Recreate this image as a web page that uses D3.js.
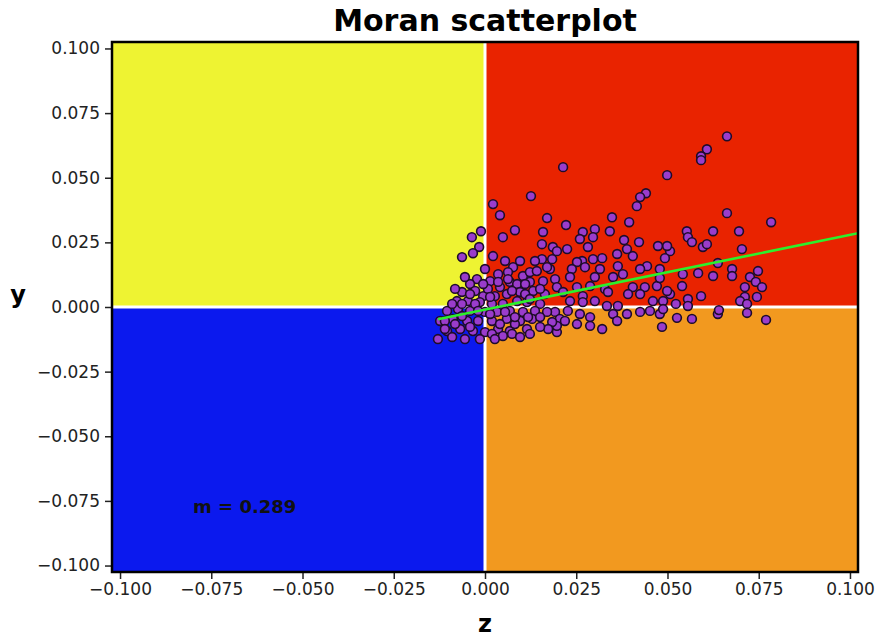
<!DOCTYPE html>
<html>
<head>
<meta charset="utf-8">
<script src="https://cdn.jsdelivr.net/npm/d3@7"></script>
<style>
  body { margin: 0; background: #fff; }
  text { font-family: "DejaVu Sans", sans-serif; }
</style>
</head>
<body>
<div id="chart"></div>
<script>
// standardised value (z) and its spatial lag (y)
const zValues = [
  0.0663, 0.0608, 0.0592, 0.0592, 0.0499, 0.0441, 0.0425, 0.0416, 0.0348, 0.0395,
  0.0214, 0.0126, 0.0022, 0.0041, 0.0170, 0.0222, 0.0082, -0.0011, 0.0159, 0.0301,
  0.0342, 0.0268, 0.0663, 0.0784, 0.0553, 0.0625, 0.0696, -0.0036, -0.0016, -0.0063,
  -0.0033, 0.0022, 0.0049, 0.0156, 0.0156, 0.0556, 0.0567, 0.0597, 0.0608, 0.0704,
  0.0507, 0.0638, 0.0677, 0.0677, 0.0542, 0.0584, 0.0625, 0.0726, 0.0748, 0.0742,
  0.0759, 0.0712, 0.0540, 0.0592, 0.0712, 0.0745, 0.0699, 0.0523, 0.0556, 0.0556,
  0.0718, 0.0526, 0.0567, 0.0638, 0.0641, 0.0718, 0.0770, 0.0507, 0.0260, 0.0296,
  0.0225, 0.0282, 0.0186, 0.0381, 0.0422, 0.0474, 0.0499, 0.0389, 0.0362, 0.0405,
  0.0493, 0.0184, 0.0296, 0.0321, 0.0266, 0.0252, 0.0364, 0.0444, 0.0425, 0.0178,
  0.0238, 0.0274, 0.0315, 0.0479, 0.0192, 0.0233, 0.0301, 0.0351, 0.0378, 0.0197,
  0.0252, 0.0288, 0.0329, 0.0405, 0.0438, 0.0471, 0.0499, 0.0214, 0.0268, 0.0337,
  0.0392, 0.0425, 0.0460, 0.0488, 0.0233, 0.0268, 0.0301, 0.0334, 0.0364, 0.0192,
  0.0227, 0.0260, 0.0205, 0.0351, 0.0389, 0.0425, 0.0452, 0.0479, 0.0488, 0.0219,
  0.0252, 0.0288, 0.0288, 0.0362, 0.0197, 0.0197, 0.0321, 0.0485, 0.0184, 0.0173,
  0.0077, 0.0063, 0.0104, 0.0123, 0.0142, 0.0170, -0.0022, -0.0041, 0.0014, 0.0041,
  0.0068, 0.0088, 0.0123, 0.0159, -0.0063, -0.0027, -0.0005, 0.0027, 0.0060, 0.0096,
  0.0132, 0.0164, -0.0077, -0.0047, -0.0014, 0.0019, 0.0049, 0.0088, 0.0115, 0.0151,
  -0.0104, -0.0074, -0.0041, 0.0000, 0.0033, 0.0068, 0.0104, 0.0137, 0.0170, -0.0123,
  -0.0088, -0.0049, -0.0019, 0.0019, 0.0060, 0.0096, 0.0129, -0.0104, -0.0068, -0.0033,
  0.0000, 0.0036, 0.0068, 0.0115, -0.0129, -0.0090, -0.0055, -0.0014, 0.0019, 0.0049,
  0.0074, -0.0063, -0.0027, 0.0008, 0.0041, 0.0082, 0.0110, -0.0090, -0.0055, 0.0036,
  0.0137, 0.0096, 0.0000, -0.0110, 0.0118, 0.0151, -0.0082, 0.0151, 0.0055, 0.0479,
  0.0197, -0.0110, -0.0082, -0.0041, -0.0019, 0.0014, 0.0055, 0.0082, 0.0027, 0.0096,
  0.0123, 0.0151, -0.0063, -0.0041, 0.0014, 0.0074, 0.0123, 0.0036, 0.0110, 0.0063,
  -0.0005,
];
const lagValues = [
  0.0660, 0.0610, 0.0583, 0.0568, 0.0510, 0.0440, 0.0425, 0.0390, 0.0347, 0.0328,
  0.0541, 0.0429, 0.0398, 0.0355, 0.0344, 0.0317, 0.0297, 0.0293, 0.0290, 0.0301,
  0.0293, 0.0290, 0.0363, 0.0328, 0.0293, 0.0293, 0.0293, 0.0270, 0.0232, 0.0193,
  0.0208, 0.0197, 0.0270, 0.0243, 0.0185, 0.0270, 0.0251, 0.0232, 0.0243, 0.0224,
  0.0216, 0.0170, 0.0147, 0.0120, 0.0127, 0.0131, 0.0120, 0.0116, 0.0139, 0.0097,
  0.0077, 0.0077, 0.0081, 0.0042, 0.0039, 0.0039, 0.0023, 0.0012, 0.0031, 0.0004,
  0.0012, -0.0042, -0.0046, -0.0027, -0.0012, -0.0023, -0.0050, 0.0050, 0.0263, 0.0270,
  0.0224, 0.0232, 0.0232, 0.0259, 0.0251, 0.0236, 0.0236, 0.0224, 0.0205, 0.0197,
  0.0189, 0.0185, 0.0185, 0.0189, 0.0178, 0.0174, 0.0158, 0.0158, 0.0147, 0.0147,
  0.0147, 0.0154, 0.0147, 0.0147, 0.0108, 0.0116, 0.0116, 0.0116, 0.0127, 0.0077,
  0.0077, 0.0081, 0.0069, 0.0077, 0.0077, 0.0081, 0.0062, 0.0058, 0.0042, 0.0058,
  0.0050, 0.0050, 0.0023, 0.0023, 0.0023, 0.0019, 0.0023, 0.0004, 0.0004, -0.0019,
  -0.0015, -0.0027, -0.0046, -0.0027, -0.0027, -0.0019, -0.0015, -0.0027, -0.0008, -0.0054,
  -0.0066, -0.0039, -0.0073, -0.0054, -0.0097, -0.0073, -0.0085, -0.0077, -0.0058, -0.0085,
  0.0154, 0.0135, 0.0120, 0.0135, 0.0139, 0.0154, 0.0108, 0.0089, 0.0100, 0.0077,
  0.0097, 0.0089, 0.0097, 0.0100, 0.0058, 0.0062, 0.0042, 0.0042, 0.0050, 0.0058,
  0.0062, 0.0050, 0.0023, 0.0023, 0.0019, 0.0012, 0.0012, 0.0023, 0.0019, 0.0012,
  -0.0015, -0.0008, -0.0015, -0.0019, -0.0019, -0.0015, -0.0019, -0.0015, -0.0019, -0.0054,
  -0.0046, -0.0054, -0.0054, -0.0054, -0.0046, -0.0054, -0.0046, -0.0093, -0.0085, -0.0093,
  -0.0097, -0.0085, -0.0093, -0.0085, -0.0124, -0.0116, -0.0124, -0.0124, -0.0104, -0.0112,
  -0.0104, -0.0035, 0.0012, 0.0070, -0.0066, -0.0066, 0.0050, 0.0012, 0.0116, 0.0127,
  0.0178, 0.0178, 0.0147, -0.0054, -0.0039, -0.0077, 0.0070, 0.0070, 0.0178, 0.0112,
  0.0216, -0.0085, -0.0066, -0.0077, -0.0015, -0.0027, -0.0019, -0.0039, -0.0124, -0.0116,
  -0.0104, -0.0039, 0.0012, 0.0050, 0.0039, 0.0062, 0.0031, 0.0097, 0.0089, 0.0108,
  0.0089,
];

// fitted line of the lag on z
const slope = 0.289;
const intercept = -0.001;

const xTicks = [-0.1, -0.075, -0.05, -0.025, 0, 0.025, 0.05, 0.075, 0.1];
const yTicks = [-0.1, -0.075, -0.05, -0.025, 0, 0.025, 0.05, 0.075, 0.1];
const xDomain = [-0.1022, 0.1022];
const yDomain = [-0.1025, 0.1025];

// quadrant fills: HH, LH, LL, HL
const quadrantColors = { hh: '#e92300', lh: '#eef332', ll: '#0b19ee', hl: '#f2991f' };

class MoranScatter {
  constructor(_config, data) {
    this.config = {
      parentElement: _config.parentElement,
      containerWidth: 877,
      containerHeight: 638,
      margin: { top: 42, right: 19, bottom: 66, left: 112 },
    };
    this.data = data;
    this.initVis();
  }

  initVis() {
    const vis = this;
    vis.width = vis.config.containerWidth - vis.config.margin.left - vis.config.margin.right;
    vis.height = vis.config.containerHeight - vis.config.margin.top - vis.config.margin.bottom;

    vis.svg = d3.select(vis.config.parentElement).append('svg')
      .attr('width', vis.config.containerWidth)
      .attr('height', vis.config.containerHeight);

    vis.chartArea = vis.svg.append('g')
      .attr('transform', `translate(${vis.config.margin.left},${vis.config.margin.top})`);

    vis.svg.append('defs').append('clipPath').attr('id', 'plot-clip')
      .append('rect').attr('width', vis.width).attr('height', vis.height);

    vis.quadG = vis.chartArea.append('g');
    vis.plotG = vis.chartArea.append('g').attr('clip-path', 'url(#plot-clip)');

    vis.xAxisG = vis.chartArea.append('g').attr('transform', `translate(0,${vis.height})`);
    vis.yAxisG = vis.chartArea.append('g');

    vis.svg.append('text')
      .attr('x', vis.config.margin.left + vis.width / 2)
      .attr('y', 31)
      .attr('text-anchor', 'middle')
      .style('font-size', '30px')
      .style('font-weight', 'bold')
      .text('Moran scatterplot');

    vis.svg.append('text')
      .attr('x', vis.config.margin.left + vis.width / 2)
      .attr('y', 632)
      .attr('text-anchor', 'middle')
      .style('font-size', '24px')
      .style('font-weight', 'bold')
      .text('z');

    vis.svg.append('text')
      .attr('x', 18)
      .attr('y', 303)
      .attr('text-anchor', 'middle')
      .style('font-size', '24px')
      .style('font-weight', 'bold')
      .text('y');

    vis.updateVis();
  }

  updateVis() {
    const vis = this;
    vis.xScale = d3.scaleLinear().domain(xDomain).range([0, vis.width]);
    vis.yScale = d3.scaleLinear().domain(yDomain).range([vis.height, 0]);

    vis.xAxis = d3.axisBottom(vis.xScale).tickValues(xTicks)
      .tickFormat(d3.format('.3f')).tickSizeOuter(0).tickSize(7).tickPadding(4);
    vis.yAxis = d3.axisLeft(vis.yScale).tickValues(yTicks)
      .tickFormat(d3.format('.3f')).tickSizeOuter(0).tickSize(7).tickPadding(5);

    vis.renderVis();
  }

  renderVis() {
    const vis = this;
    const x0 = vis.xScale(0);
    const y0 = vis.yScale(0);
    const quads = [
      { key: 'lh', x: 0, y: 0, w: x0, h: y0 },
      { key: 'hh', x: x0, y: 0, w: vis.width - x0, h: y0 },
      { key: 'll', x: 0, y: y0, w: x0, h: vis.height - y0 },
      { key: 'hl', x: x0, y: y0, w: vis.width - x0, h: vis.height - y0 },
    ];
    vis.quadG.selectAll('.quad')
      .data(quads)
      .join('rect')
      .attr('class', 'quad')
      .attr('x', (d) => d.x)
      .attr('y', (d) => d.y)
      .attr('width', (d) => d.w)
      .attr('height', (d) => d.h)
      .attr('fill', (d) => quadrantColors[d.key]);

    vis.quadG.append('line')
      .attr('x1', 0).attr('x2', vis.width)
      .attr('y1', y0).attr('y2', y0)
      .attr('stroke', '#fff').attr('stroke-width', 3);
    vis.quadG.append('line')
      .attr('x1', x0).attr('x2', x0)
      .attr('y1', 0).attr('y2', vis.height)
      .attr('stroke', '#fff').attr('stroke-width', 3);

    vis.plotG.selectAll('.pt')
      .data(vis.data)
      .join('circle')
      .attr('class', 'pt')
      .attr('cx', (d) => vis.xScale(d.z))
      .attr('cy', (d) => vis.yScale(d.lag))
      .attr('r', 4.4)
      .attr('fill', '#9a3ccc')
      .attr('stroke', '#1e0c2a')
      .attr('stroke-width', 1.6);

    const zMin = d3.min(vis.data, (d) => d.z);
    const fit = [zMin, xDomain[1]].map((z) => ({ z, lag: slope * z + intercept }));
    vis.plotG.append('path')
      .datum(fit)
      .attr('fill', 'none')
      .attr('stroke', '#2cf02c')
      .attr('stroke-width', 2.6)
      .attr('d', d3.line().x((d) => vis.xScale(d.z)).y((d) => vis.yScale(d.lag)));

    vis.plotG.append('text')
      .attr('x', vis.xScale(-0.0800))
      .attr('y', vis.yScale(-0.0795))
      .style('font-size', '18px')
      .style('font-weight', 'bold')
      .attr('fill', '#111')
      .text(`m = ${slope.toFixed(3)}`);

    vis.chartArea.append('rect')
      .attr('width', vis.width)
      .attr('height', vis.height)
      .attr('fill', 'none')
      .attr('stroke', '#000')
      .attr('stroke-width', 2.5);

    [vis.xAxisG.call(vis.xAxis), vis.yAxisG.call(vis.yAxis)].forEach((g) => {
      g.select('.domain').remove();
      g.selectAll('.tick line').attr('stroke', '#222').attr('stroke-width', 1.5);
      g.selectAll('.tick text').style('font-size', '17px').attr('fill', '#222')
        .style('font-family', '"DejaVu Sans", sans-serif');
    });
  }
}

const points = zValues.map((z, i) => ({ z, lag: lagValues[i] }));
new MoranScatter({ parentElement: '#chart' }, points);
</script>
</body>
</html>
